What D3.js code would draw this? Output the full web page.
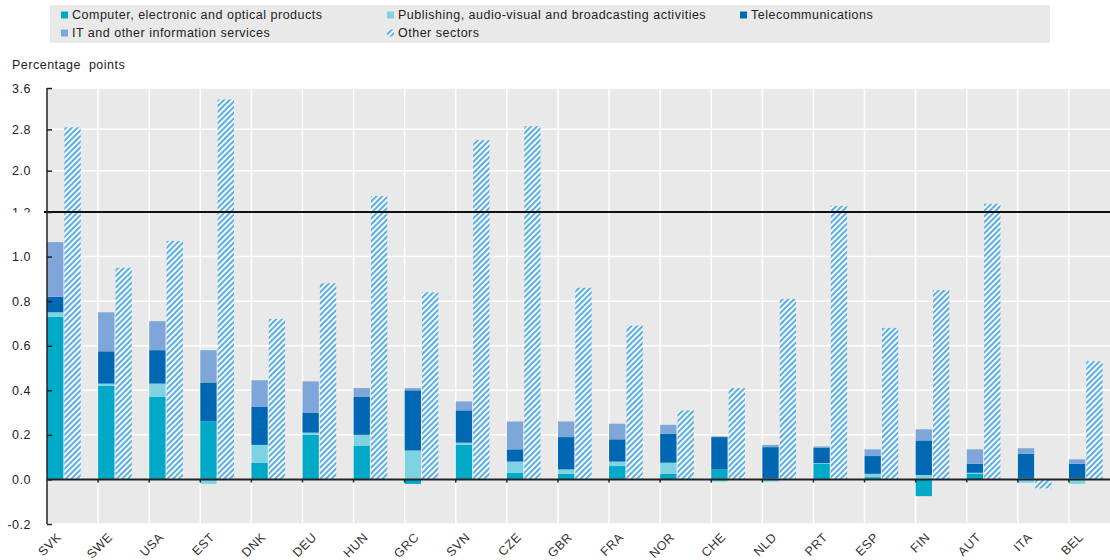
<html>
<head>
<meta charset="utf-8">
<style>
  body { margin: 0; background: #fff; }
  text { font-family: "Liberation Sans", Arial, sans-serif; }
</style>
</head>
<body>
<svg id="chart" width="1110" height="560"></svg>
<script src="https://d3js.org/d3.v7.min.js"></script>
<script>
// data
var countries = ["SVK","SWE","USA","EST","DNK","DEU","HUN","GRC","SVN","CZE","GBR","FRA","NOR","CHE","NLD","PRT","ESP","FIN","AUT","ITA","BEL"];
var computer   = [0.73, 0.42, 0.37, 0.26, 0.075, 0.20, 0.15, -0.02, 0.155, 0.03, 0.025, 0.06, 0.025, 0.045, 0.005, 0.07, 0.01, -0.075, 0.025, 0.005, 0.005];
var publishing = [0.02, 0.01, 0.06, -0.02, 0.08, 0.01, 0.05, 0.13, 0.01, 0.05, 0.02, 0.02, 0.05, -0.01, -0.01, 0.003, 0.015, 0.02, 0.005, -0.015, -0.02];
var telecom    = [0.07, 0.145, 0.15, 0.175, 0.17, 0.09, 0.17, 0.27, 0.145, 0.055, 0.145, 0.10, 0.13, 0.145, 0.14, 0.07, 0.08, 0.155, 0.04, 0.11, 0.065];
var itServices = [0.245, 0.175, 0.13, 0.145, 0.12, 0.14, 0.04, 0.01, 0.04, 0.125, 0.07, 0.07, 0.04, 0.003, 0.01, 0.005, 0.03, 0.05, 0.065, 0.025, 0.02];
var other      = [2.84, 0.95, 1.07, 3.38, 0.72, 0.88, 1.51, 0.84, 2.59, 2.86, 0.86, 0.69, 0.31, 0.41, 0.81, 1.32, 0.68, 0.85, 1.36, -0.04, 0.53];

var seriesNames = ["Computer, electronic and optical products", "Publishing, audio-visual and broadcasting activities",
                   "Telecommunications", "IT and other information services", "Other sectors"];
var yTicks = [-0.2, 0.0, 0.2, 0.4, 0.6, 0.8, 1.0, 1.2, 2.0, 2.8, 3.6];
var yBreak = 1.2;

var keys = ["computer", "publishing", "telecom", "it"];
var colors = {computer: "#00a9c8", publishing: "#7fd2e2", telecom: "#0068b3", it: "#7fa6d8"};
var hatchColor = "#5aaee3";

var rows = countries.map(function (c, i) {
    return {country: c, computer: computer[i], publishing: publishing[i], telecom: telecom[i], it: itServices[i], other: other[i]};
});

var svg = d3.select("#chart");
var plotLeft = 47, plotRight = 1120, plotTop = 88, plotBottom = 524, svgW = 1110;

// piecewise scale: compressed above the break
var y = d3.scaleLinear().domain([-0.2, yBreak, 3.6]).range([plotBottom, 212, plotTop]);
var x = d3.scaleBand().domain(countries).range([plotLeft, plotRight]);
var inner = d3.scaleBand().domain(["stack", "other", "none"]).range([0, x.bandwidth()]).paddingInner(0.06);

var defs = svg.append("defs");
var pat = defs.append("pattern")
    .attr("id", "hatch")
    .attr("patternUnits", "userSpaceOnUse")
    .attr("width", 4).attr("height", 4)
    .attr("patternTransform", "rotate(45)");
pat.append("rect").attr("width", 4).attr("height", 4).attr("fill", "#fff");
pat.append("rect").attr("width", 2.1).attr("height", 4).attr("fill", hatchColor);

// the 1.2 label is half hidden behind the break line
defs.append("clipPath").attr("id", "cut12")
    .append("rect").attr("x", -60).attr("y", -20).attr("width", 60).attr("height", 20);

// legend
var lg = svg.append("g");
lg.append("rect").attr("x", 50).attr("y", 5).attr("width", 1000).attr("height", 38).attr("fill", "#e9e9e9");
var legendItems = [
    {name: seriesNames[0], fill: colors.computer, x: 61, y: 15},
    {name: seriesNames[1], fill: colors.publishing, x: 387, y: 15},
    {name: seriesNames[2], fill: colors.telecom, x: 740, y: 15},
    {name: seriesNames[3], fill: colors.it, x: 61, y: 33},
    {name: seriesNames[4], fill: "url(#hatch)", x: 387, y: 33}
];
var li = lg.selectAll("g.item").data(legendItems).enter().append("g")
    .attr("class", "item")
    .attr("transform", function (d) { return "translate(" + d.x + "," + d.y + ")"; });
li.append("rect").attr("x", 0).attr("y", -3.5).attr("width", 7).attr("height", 7)
    .attr("fill", function (d) { return d.fill; });
li.append("text").attr("x", 11).attr("dy", "0.35em")
    .attr("font-size", 12.5).attr("letter-spacing", 0.5).attr("fill", "#222")
    .text(function (d) { return d.name; });

svg.append("text").attr("x", 12).attr("y", 69)
    .attr("font-size", 12.5).attr("letter-spacing", 0.5).attr("fill", "#222")
    .style("white-space", "pre")
    .text("Percentage  points");

// plot background + grid
svg.append("rect").attr("x", plotLeft).attr("y", plotTop).attr("width", svgW - plotLeft).attr("height", plotBottom - plotTop).attr("fill", "#e9e9e9");
svg.append("g").selectAll("line").data(countries.slice(1)).enter().append("line")
    .attr("x1", function (d) { return x(d); }).attr("x2", function (d) { return x(d); })
    .attr("y1", plotTop).attr("y2", plotBottom)
    .attr("stroke", "#fff").attr("stroke-width", 1.5);
svg.append("g").selectAll("line").data(yTicks).enter().append("line")
    .attr("x1", plotLeft).attr("x2", svgW)
    .attr("y1", function (d) { return y(d); }).attr("y2", function (d) { return y(d); })
    .attr("stroke", "#fff").attr("stroke-width", 1.5);

// stacked bars
var stack = d3.stack().keys(keys).offset(d3.stackOffsetDiverging);
var layers = stack(rows);
svg.append("g").selectAll("g").data(layers).enter().append("g")
    .attr("fill", function (d) { return colors[d.key]; })
    .selectAll("rect").data(function (d) { return d; }).enter().append("rect")
    .attr("x", function (d) { return x(d.data.country) + inner("stack"); })
    .attr("width", inner.bandwidth())
    .attr("y", function (d) { return y(Math.max(d[0], d[1])); })
    .attr("height", function (d) { return Math.abs(y(d[0]) - y(d[1])); });

// other sectors, hatched
svg.append("g").selectAll("rect").data(rows).enter().append("rect")
    .attr("x", function (d) { return x(d.country) + inner("other"); })
    .attr("width", inner.bandwidth())
    .attr("y", function (d) { return y(Math.max(0, d.other)); })
    .attr("height", function (d) { return Math.abs(y(d.other) - y(0)); })
    .attr("fill", "url(#hatch)");

// zero line, break line
svg.append("line").attr("x1", plotLeft).attr("x2", svgW).attr("y1", y(0)).attr("y2", y(0))
    .attr("stroke", "#222").attr("stroke-width", 2);
svg.append("g").selectAll("line").data(countries.slice(1)).enter().append("line")
    .attr("x1", function (d) { return x(d); }).attr("x2", function (d) { return x(d); })
    .attr("y1", y(0)).attr("y2", y(0) + 3)
    .attr("stroke", "#222").attr("stroke-width", 1.5);
svg.append("line").attr("x1", plotLeft - 3).attr("x2", svgW).attr("y1", y(yBreak)).attr("y2", y(yBreak))
    .attr("stroke", "#111").attr("stroke-width", 2);

// y axis
var yAxis = svg.append("g").attr("transform", "translate(" + plotLeft + ",0)")
    .call(d3.axisLeft(y).tickValues(yTicks).tickSize(-5).tickPadding(16).tickFormat(function (d) { return d3.format(".1f")(d).replace("\u2212", "-"); }));
yAxis.select(".domain").attr("stroke", "#222").attr("stroke-width", 1.5).attr("d", "M0," + plotTop + "V" + plotBottom);
yAxis.selectAll(".tick line").attr("stroke", "#222").attr("stroke-width", 1.5);
yAxis.selectAll(".tick text")
    .attr("font-family", "Liberation Sans, Arial, sans-serif")
    .attr("font-size", 12.5).attr("letter-spacing", 0.5).attr("fill", "#222")
    .attr("clip-path", function (d) { return d === yBreak ? "url(#cut12)" : null; });

// x labels
svg.append("g").selectAll("text").data(countries).enter().append("text")
    .attr("transform", function (d) { return "translate(" + (x(d) + 12) + ",535) rotate(-45)"; })
    .attr("text-anchor", "end").attr("dy", "0.35em")
    .attr("font-size", 12.5).attr("letter-spacing", 0.5).attr("fill", "#333")
    .text(function (d) { return d; });
</script>
</body>
</html>
